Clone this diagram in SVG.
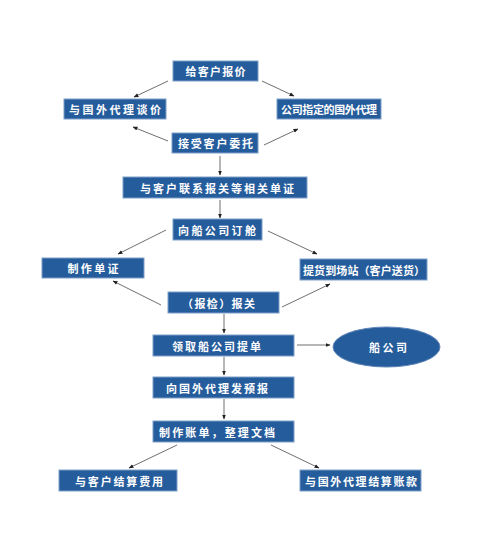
<svg xmlns="http://www.w3.org/2000/svg" width="500" height="545" viewBox="0 0 500 545">
<defs>
<marker id="ah" viewBox="0 0 10 10" refX="9" refY="5" markerWidth="5" markerHeight="5" orient="auto">
<path d="M0,1 L10,5 L0,9 z" fill="#222"/>
</marker>
<style>
.box{fill:#255c9c;stroke:#7f9fc8;stroke-width:1}
.ell{fill:#255c9c;stroke:#5f86b8;stroke-width:1}
.t{fill:#fff;font-family:"Noto Sans CJK SC","Noto Sans",sans-serif;font-size:11px;font-weight:bold;text-anchor:middle;dominant-baseline:central}
.c{stroke:#6f6f6f;stroke-width:1;fill:none;marker-end:url(#ah)}
</style>
</defs>
<rect width="500" height="545" fill="#fff"/>
<g id="connectors">
<line class="c" x1="168" y1="81" x2="134" y2="97"/>
<line class="c" x1="262" y1="81" x2="294" y2="96"/>
<line class="c" x1="168" y1="141" x2="133" y2="127"/>
<line class="c" x1="264" y1="145" x2="298" y2="129"/>
<line class="c" x1="220" y1="156" x2="220" y2="175"/>
<line class="c" x1="220" y1="200" x2="220" y2="218"/>
<line class="c" x1="166" y1="230" x2="118" y2="254"/>
<line class="c" x1="268" y1="231" x2="317" y2="254"/>
<line class="c" x1="161" y1="305" x2="113" y2="281"/>
<line class="c" x1="282" y1="307" x2="330" y2="284"/>
<line class="c" x1="224" y1="314" x2="224" y2="333"/>
<line class="c" x1="297" y1="345" x2="330" y2="345"/>
<line class="c" x1="224" y1="357" x2="224" y2="375"/>
<line class="c" x1="224" y1="399" x2="224" y2="419"/>
<line class="c" x1="177" y1="445" x2="129" y2="468"/>
<line class="c" x1="271" y1="445" x2="319" y2="468"/>
</g>
<g id="n1"><rect class="box" x="173" y="61" width="85" height="20"/><text class="t" x="215.5" y="71" textLength="60" lengthAdjust="spacing">给客户报价</text></g>
<g id="n2"><rect class="box" x="64" y="99" width="102" height="20"/><text class="t" x="115" y="109" textLength="92" lengthAdjust="spacing">与国外代理谈价</text></g>
<g id="n3"><rect class="box" x="277" y="99" width="104" height="20"/><text class="t" x="329" y="109" textLength="96" lengthAdjust="spacing">公司指定的国外代理</text></g>
<g id="n4"><rect class="box" x="172" y="133" width="86" height="20"/><text class="t" x="215.5" y="143" textLength="75" lengthAdjust="spacing">接受客户委托</text></g>
<g id="n5"><rect class="box" x="123" y="177" width="184" height="21"/><text class="t" x="217" y="187.5" textLength="154" lengthAdjust="spacing">与客户联系报关等相关单证</text></g>
<g id="n6"><rect class="box" x="173" y="219" width="89" height="21"/><text class="t" x="217" y="229.5" textLength="78" lengthAdjust="spacing">向船公司订舱</text></g>
<g id="n7"><rect class="box" x="42" y="258" width="102" height="20"/><text class="t" x="93" y="268" textLength="51" lengthAdjust="spacing">制作单证</text></g>
<g id="n8"><rect class="box" x="300" y="259" width="127" height="21"/><text class="t" x="364" y="269.5" textLength="122" lengthAdjust="spacing">提货到场站（客户送货）</text></g>
<g id="n9"><rect class="box" x="168" y="292" width="111" height="21"/><text class="t" x="218.5" y="302.5" textLength="73" lengthAdjust="spacing">（报检）报关</text></g>
<g id="n10"><rect class="box" x="153" y="335" width="141" height="21"/><text class="t" x="216.5" y="345.5" textLength="89" lengthAdjust="spacing">领取船公司提单</text></g>
<g id="n11"><ellipse class="ell" cx="386.5" cy="347" rx="53.5" ry="20"/><text class="t" x="388" y="347" textLength="38" lengthAdjust="spacing">船公司</text></g>
<g id="n12"><rect class="box" x="153" y="377" width="141" height="21"/><text class="t" x="217" y="387.5" textLength="102" lengthAdjust="spacing">向国外代理发预报</text></g>
<g id="n13"><rect class="box" x="153" y="421" width="141" height="21"/><text class="t" x="217" y="431.5" textLength="116" lengthAdjust="spacing">制作账单，整理文档</text></g>
<g id="n14"><rect class="box" x="59" y="470" width="118" height="21"/><text class="t" x="119" y="480.5" textLength="88" lengthAdjust="spacing">与客户结算费用</text></g>
<g id="n15"><rect class="box" x="300" y="470" width="121" height="21"/><text class="t" x="361" y="480.5" textLength="112" lengthAdjust="spacing">与国外代理结算账款</text></g>
</svg>
